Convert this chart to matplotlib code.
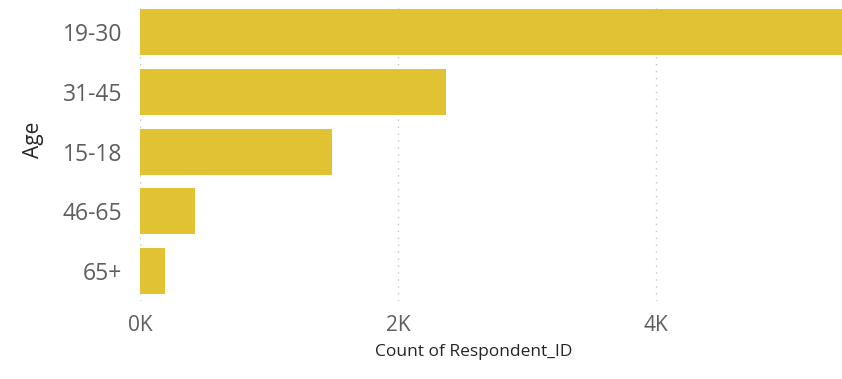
import matplotlib.pyplot as plt
from matplotlib.ticker import FuncFormatter

# respondents per age group
age_groups = ['19-30', '31-45', '15-18', '46-65', '65+']
respondents = [5440, 2370, 1490, 430, 190]

bar_color = '#E1C233'
tick_color = '#605E5C'
label_color = '#252423'

plt.rcParams['font.family'] = ['Open Sans', 'DejaVu Sans']

fig = plt.figure(figsize=(8.42, 3.79), dpi=100)
ax = fig.add_axes([140 / 842, 78 / 379, 702 / 842, 298.5 / 379])

ax.barh(age_groups, respondents, height=0.77, color=bar_color, zorder=2)
ax.set_ylim(4.5, -0.5)
ax.set_xlim(0, 5440)
ax.set_xticks([0, 2000, 4000])
ax.xaxis.set_major_formatter(FuncFormatter(lambda v, _: f'{v / 1000:.0f}K'))

ax.grid(axis='x', linestyle=(0, (1, 4)), color='#C8C6C4', linewidth=1, zorder=0)
for side in ax.spines.values():
    side.set_visible(False)
ax.tick_params(axis='both', length=0, colors=tick_color, labelsize=15)
ax.tick_params(axis='y', pad=13, labelsize=16.5)
ax.tick_params(axis='x', pad=10)

ax.set_xlabel('Count of Respondent_ID', fontsize=12.5, color=label_color)
ax.xaxis.set_label_coords(0.476, -0.143)
ax.set_ylabel('Age', fontsize=15, color=label_color)
ax.yaxis.set_label_coords(-0.137, 0.54)

fig.savefig('out.png', dpi=100)
